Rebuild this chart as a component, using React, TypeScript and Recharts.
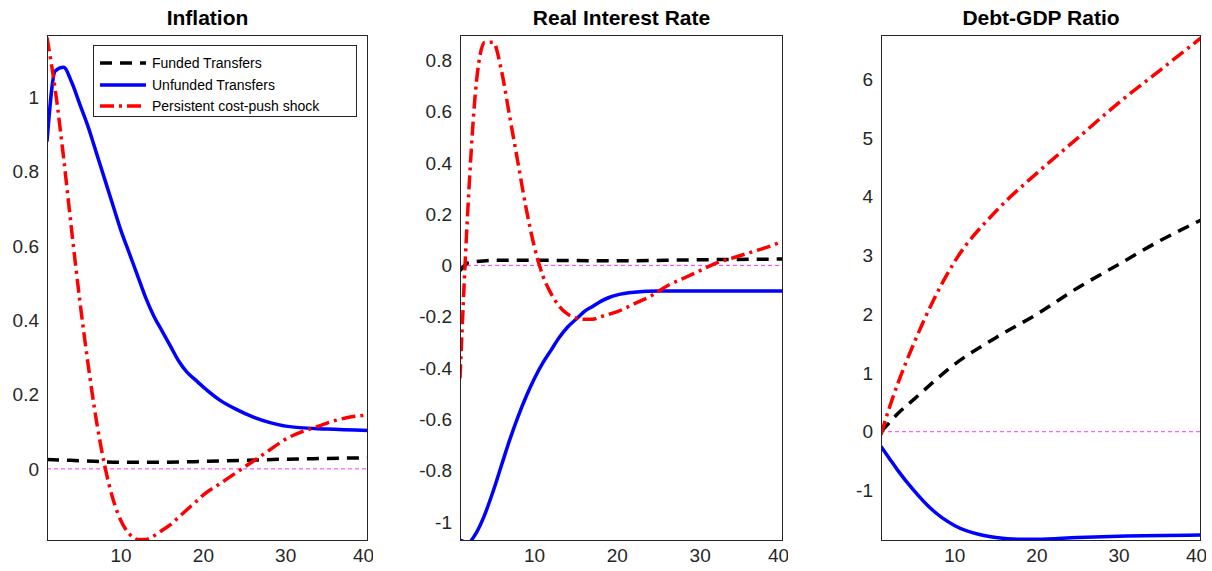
import { LineChart, Line, XAxis, YAxis, ReferenceLine } from 'recharts';

const inflFundedX = [1, 5, 10, 15, 20, 25, 30, 35, 40];
const inflFunded = [0.025, 0.022, 0.018, 0.018, 0.02, 0.023, 0.026, 0.028, 0.03];
const inflUnfundedX = [1, 2, 3, 4, 5, 6, 7, 8, 9, 10, 11, 12, 13, 14, 15, 16, 17, 18, 19, 20, 22, 24, 26, 28, 30, 35, 40];
const inflUnfunded = [0.88, 1.07, 1.08, 1.04, 0.98, 0.92, 0.85, 0.78, 0.71, 0.64, 0.58, 0.52, 0.46, 0.41, 0.37, 0.33, 0.29, 0.26, 0.24, 0.22, 0.185, 0.16, 0.14, 0.125, 0.115, 0.107, 0.103];
const inflPersistX = [1, 2, 3, 4, 5, 6, 7, 8, 9, 10, 11, 12, 13, 14, 15, 16, 17, 18, 19, 20, 22, 24, 26, 28, 30, 32, 34, 36, 38, 40];
const inflPersist = [1.16, 1.02, 0.84, 0.64, 0.45, 0.28, 0.13, 0.01, -0.08, -0.14, -0.175, -0.19, -0.19, -0.18, -0.165, -0.15, -0.13, -0.11, -0.09, -0.07, -0.04, -0.01, 0.02, 0.05, 0.08, 0.1, 0.115, 0.13, 0.14, 0.145];

const rirFundedX = [1, 2, 3, 5, 10, 20, 30, 40];
const rirFunded = [-0.02, 0.01, 0.015, 0.02, 0.02, 0.018, 0.022, 0.025];
const rirUnfundedX = [1, 2, 3, 4, 5, 6, 7, 8, 9, 10, 11, 12, 13, 14, 15, 16, 17, 18, 19, 20, 22, 25, 30, 40];
const rirUnfunded = [-1.07, -1.08, -1.04, -0.97, -0.88, -0.78, -0.68, -0.59, -0.51, -0.44, -0.38, -0.33, -0.28, -0.24, -0.21, -0.18, -0.16, -0.14, -0.125, -0.115, -0.105, -0.1, -0.1, -0.1];
const rirPersistX = [1, 2, 3, 4, 5, 6, 7, 8, 9, 10, 11, 12, 13, 14, 15, 16, 17, 18, 19, 20, 22, 24, 26, 28, 30, 32, 34, 36, 38, 40];
const rirPersist = [-0.44, 0.25, 0.72, 0.87, 0.87, 0.76, 0.58, 0.4, 0.22, 0.07, -0.04, -0.11, -0.16, -0.19, -0.205, -0.21, -0.21, -0.2, -0.19, -0.18, -0.15, -0.12, -0.08, -0.05, -0.02, 0.01, 0.03, 0.05, 0.07, 0.095];

const debtFundedX = [1, 2, 3, 5, 10, 15, 20, 25, 30, 35, 40];
const debtFunded = [0, 0.15, 0.3, 0.55, 1.15, 1.6, 2.0, 2.45, 2.85, 3.25, 3.6];
const debtPersistX = [1, 2, 3, 5, 10, 15, 20, 25, 30, 35, 40];
const debtPersist = [-0.05, 0.4, 0.8, 1.5, 2.9, 3.75, 4.4, 5.0, 5.6, 6.15, 6.7];
const debtUnfundedX = [1, 2, 3, 5, 7, 10, 13, 15, 18, 20, 25, 30, 40];
const debtUnfunded = [-0.25, -0.45, -0.65, -1.0, -1.3, -1.6, -1.75, -1.8, -1.83, -1.83, -1.8, -1.78, -1.76];

const xTicks = [10, 20, 30, 40];
const font = 'Liberation Sans, Arial, sans-serif';
const pts = (xs: number[], ys: number[]) => xs.map((x, i) => ({ x, y: ys[i] }));

type PanelProps = {
  title: string; left: number; right: number; top: number; bottom: number;
  domain: [number, number]; ticks: number[];
  funded: { x: number; y: number }[]; unfunded: { x: number; y: number }[]; persist: { x: number; y: number }[];
};

function Panel({ title, left, right, top, bottom, domain, ticks, funded, unfunded, persist }: PanelProps) {
  const yw = 45;
  const pw = right - left;
  const ph = bottom - top;
  const tick = { fontSize: 19, fill: '#262626', fontFamily: font };
  return (
    <>
      <div style={{ position: 'absolute', left, width: pw, top: 6, textAlign: 'center', fontWeight: 'bold', fontSize: 21, fontFamily: font }}>{title}</div>
      <div style={{ position: 'absolute', left: left - yw, top }}>
        <LineChart width={yw + pw + 5} height={ph + 32} margin={{ top: 0, right: 5, bottom: 0, left: 0 }}>
          <XAxis type="number" dataKey="x" domain={[1, 40]} ticks={xTicks} height={32} tickLine={false} axisLine={false} allowDataOverflow tick={tick} />
          <YAxis type="number" dataKey="y" domain={domain} ticks={ticks} width={yw} tickLine={false} axisLine={false} allowDataOverflow tick={tick} />
          <ReferenceLine y={0} stroke="#ff00ff" strokeDasharray="4 3" strokeWidth={0.8} />
          <Line data={funded} dataKey="y" type="monotone" stroke="#000" strokeWidth={3.5} strokeDasharray="12 8" dot={false} isAnimationActive={false} />
          <Line data={unfunded} dataKey="y" type="monotone" stroke="#0000ff" strokeWidth={3.5} dot={false} isAnimationActive={false} />
          <Line data={persist} dataKey="y" type="monotone" stroke="#ff0000" strokeWidth={3.5} strokeDasharray="14 5 3 5" dot={false} isAnimationActive={false} />
        </LineChart>
      </div>
      <div style={{ position: 'absolute', left, top, width: pw, height: ph, border: '1px solid #262626', boxSizing: 'border-box', pointerEvents: 'none' }} />
    </>
  );
}

export default function App() {
  return (
    <div style={{ position: 'fixed', left: 0, top: 0, width: 1212, height: 571, background: '#fff' }}>
      <Panel title="Inflation" left={47} right={368} top={35} bottom={541} domain={[-0.194, 1.167]} ticks={[0, 0.2, 0.4, 0.6, 0.8, 1]}
        funded={pts(inflFundedX, inflFunded)} unfunded={pts(inflUnfundedX, inflUnfunded)} persist={pts(inflPersistX, inflPersist)} />
      <Panel title="Real Interest Rate" left={460} right={783} top={35} bottom={541} domain={[-1.074, 0.898]} ticks={[-1, -0.8, -0.6, -0.4, -0.2, 0, 0.2, 0.4, 0.6, 0.8]}
        funded={pts(rirFundedX, rirFunded)} unfunded={pts(rirUnfundedX, rirUnfunded)} persist={pts(rirPersistX, rirPersist)} />
      <Panel title="Debt-GDP Ratio" left={881} right={1201} top={35} bottom={541} domain={[-1.86, 6.75]} ticks={[-1, 0, 1, 2, 3, 4, 5, 6]}
        funded={pts(debtFundedX, debtFunded)} unfunded={pts(debtUnfundedX, debtUnfunded)} persist={pts(debtPersistX, debtPersist)} />
      <div style={{ position: 'absolute', left: 93, top: 45, width: 264, height: 72, background: '#fff', border: '1px solid #262626', boxSizing: 'border-box', fontFamily: font, fontSize: 14 }}>
        {[
          { label: 'Funded Transfers', color: '#000', dash: '12 8' },
          { label: 'Unfunded Transfers', color: '#0000ff', dash: undefined },
          { label: 'Persistent cost-push shock', color: '#ff0000', dash: '14 5 3 5' },
        ].map((e, i) => (
          <div key={i} style={{ position: 'absolute', left: 6, top: 8 + i * 21.5, display: 'flex', alignItems: 'center', height: 18 }}>
            <svg width={46} height={10}><line x1={0} y1={5} x2={46} y2={5} stroke={e.color} strokeWidth={3.5} strokeDasharray={e.dash} /></svg>
            <span style={{ marginLeft: 6 }}>{e.label}</span>
          </div>
        ))}
      </div>
    </div>
  );
}
